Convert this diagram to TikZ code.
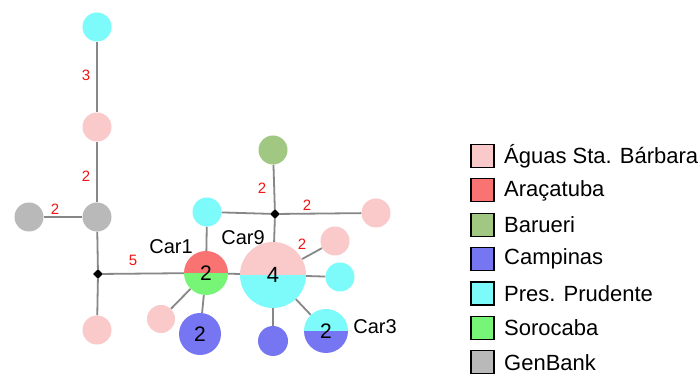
\documentclass[tikz,border=0pt]{standalone}
\usepackage{fontspec}
\setmainfont{Liberation Sans}
\usetikzlibrary{shapes.geometric,backgrounds}
\definecolor{pinkc}{RGB}{250,202,202}
\definecolor{redc}{RGB}{250,115,115}
\definecolor{barc}{RGB}{160,200,130}
\definecolor{bluec}{RGB}{118,118,242}
\definecolor{cyanc}{RGB}{125,250,250}
\definecolor{soroc}{RGB}{118,245,118}
\definecolor{grayc}{RGB}{185,185,185}
\definecolor{edgec}{RGB}{135,135,135}
\definecolor{numred}{RGB}{240,20,20}
\begin{document}
\begin{tikzpicture}[x=1pt,y=1pt,
  blob/.style={circle,inner sep=0pt,minimum size=#1,font=\fontsize{21}{23}\selectfont},
  halves/.style 2 args={circle,inner sep=0pt,font=\fontsize{21}{23}\selectfont,
    path picture={\fill[#1] (path picture bounding box.north west) rectangle (path picture bounding box.east);
                  \fill[#2] (path picture bounding box.west) rectangle (path picture bounding box.south east);}},
  junc/.style={diamond,fill=black,inner sep=0pt,minimum size=10pt},
  link/.style={draw=edgec,line width=1.8pt},
  dist/.style={text=numred,font=\fontsize{15}{17}\selectfont},
  carlbl/.style={font=\fontsize{20}{22}\selectfont},
  legbox/.style={draw=black,line width=1.2pt,minimum width=23pt,minimum height=23pt,inner sep=0pt},
  legtxt/.style={anchor=west,font=\fontsize{22}{24}\selectfont,inner sep=0pt}]
\useasboundingbox (0,0) rectangle (699,374);
% nodes
\node[blob=29pt,fill=cyanc] (cT) at (97,347) {};
\node[blob=29pt,fill=pinkc] (p1) at (97,247) {};
\node[blob=29pt,fill=grayc] (g1) at (97,157) {};
\node[blob=29pt,fill=grayc] (g2) at (29,157) {};
\node[junc] (j1) at (98,100) {};
\node[blob=29pt,fill=pinkc] (p2) at (97,44) {};
\node[halves={redc}{soroc},minimum size=44pt] (car1) at (206,101) {2};
\node[blob=29pt,fill=cyanc] (c1) at (207,162) {};
\node[blob=28pt,fill=pinkc] (p3) at (161,55) {};
\node[blob=42pt,fill=bluec] (b1) at (200,40) {2};
\node[halves={pinkc}{cyanc},minimum size=66pt,font=\fontsize{22}{24}\selectfont] (car9) at (273,99) {4};
\node[junc] (j2) at (275,160) {};
\node[blob=29pt,fill=barc] (gr) at (273,224) {};
\node[blob=29pt,fill=pinkc] (p4) at (376,161) {};
\node[blob=29pt,fill=pinkc] (p5) at (335,133) {};
\node[blob=29pt,fill=cyanc] (c2) at (340,97) {};
\node[blob=30pt,fill=bluec] (b2) at (273,33) {};
\node[halves={cyanc}{bluec},minimum size=44pt] (car3) at (326,43) {2};
% connectors
\begin{scope}[on background layer]
\fill[white] (0,0) rectangle (699,374);
\draw[link] (cT) -- (p1);
\draw[link] (p1) -- (g1);
\draw[link] (g1) -- (g2);
\draw[link] (g1) -- (j1);
\draw[link] (j1) -- (p2);
\draw[link] (j1) -- (car1);
\draw[link] (car1) -- (c1);
\draw[link] (car1) -- (p3);
\draw[link] (car1) -- (b1);
\draw[link] (car1) -- (car9);
\draw[link] (car9) -- (j2);
\draw[link] (j2) -- (c1);
\draw[link] (j2) -- (gr);
\draw[link] (j2) -- (p4);
\draw[link] (car9) -- (p5);
\draw[link] (car9) -- (c2);
\draw[link] (car9) -- (car3);
\draw[link] (car9) -- (b2);
\end{scope}
% distance labels
\node[dist] (d1) at (86,299) {3};
\node[dist] (d2) at (86,198) {2};
\node[dist] (d3) at (55,165) {2};
\node[dist] (d4) at (133,114) {5};
\node[dist] (d5) at (262,186) {2};
\node[dist] (d6) at (307,169) {2};
\node[dist] (d7) at (302,130) {2};
% haplotype labels
\node[carlbl] (l1) at (171,127) {Car1};
\node[carlbl] (l9) at (243,136) {Car9};
\node[carlbl] (l3) at (375,47) {Car3};
% legend
\foreach \i/\c/\t in {0/pinkc/Águas Sta. Bárbara,1/redc/Araçatuba,2/barc/Barueri,3/bluec/Campinas,4/cyanc/Pres. Prudente,5/soroc/Sorocaba,6/grayc/GenBank}{
  \node[legbox,fill=\c] (lb\i) at (482.5,{218-34.4*\i}) {};
  \node[legtxt] (lt\i) at (504,{218-34.4*\i}) {\t};
}
\end{tikzpicture}
\end{document}
